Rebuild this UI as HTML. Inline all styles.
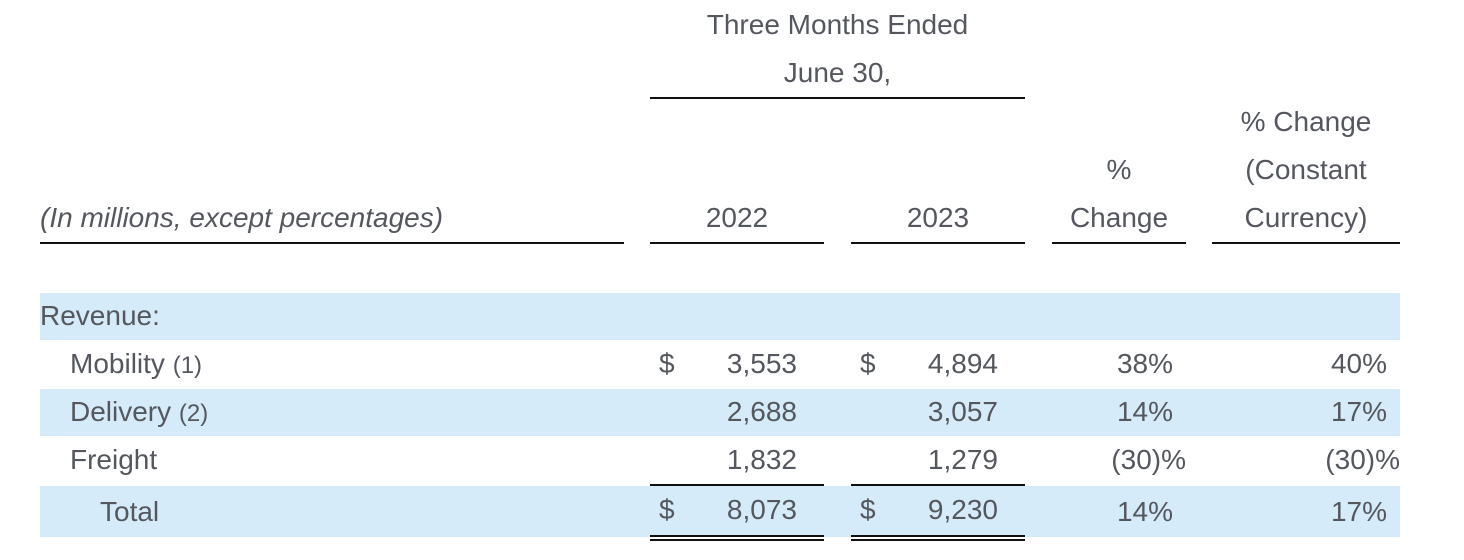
<!DOCTYPE html>
<html><head><meta charset="utf-8"><style>
body{margin:0;width:1464px;height:560px;background:#fff;position:relative;overflow:hidden;font-family:"Liberation Sans",sans-serif;color:#54585e;font-size:28px}
.a{position:absolute;white-space:nowrap;line-height:48px;height:48px}
.r{text-align:right}
.band{position:absolute;left:40px;width:1360px;background:#d5ebf9}
.ln{position:absolute;height:2px;background:#111}
.sm{font-size:24px}
</style></head><body>
<div class="band" style="top:293px;height:47px"></div>
<div class="band" style="top:389px;height:47px"></div>
<div class="band" style="top:486px;height:51px"></div>

<div class="a" style="left:650px;width:375px;text-align:center;top:1px">Three Months Ended</div>
<div class="a" style="left:650px;width:375px;text-align:center;top:49px">June 30,</div>
<div class="ln" style="left:650px;width:375px;top:97px"></div>

<div class="a" style="left:40px;top:194px;font-style:italic">(In millions, except percentages)</div>
<div class="a" style="left:650px;width:174px;text-align:center;top:194px">2022</div>
<div class="a" style="left:851px;width:174px;text-align:center;top:194px">2023</div>
<div class="a" style="left:1052px;width:134px;text-align:center;top:146px">%</div>
<div class="a" style="left:1052px;width:134px;text-align:center;top:194px">Change</div>
<div class="a" style="left:1212px;width:188px;text-align:center;top:98px">% Change</div>
<div class="a" style="left:1212px;width:188px;text-align:center;top:146px">(Constant</div>
<div class="a" style="left:1212px;width:188px;text-align:center;top:194px">Currency)</div>
<div class="ln" style="left:40px;width:584px;top:242px"></div>
<div class="ln" style="left:650px;width:174px;top:242px"></div>
<div class="ln" style="left:851px;width:174px;top:242px"></div>
<div class="ln" style="left:1052px;width:134px;top:242px"></div>
<div class="ln" style="left:1212px;width:188px;top:242px"></div>

<div class="a" style="left:40px;top:292px">Revenue:</div>

<div class="a" style="left:70px;top:340px">Mobility <span class="sm">(1)</span></div>
<div class="a" style="left:659px;top:340px">$</div>
<div class="a r" style="right:667px;top:340px">3,553</div>
<div class="a" style="left:860px;top:340px">$</div>
<div class="a r" style="right:466px;top:340px">4,894</div>
<div class="a r" style="right:291px;top:340px">38%</div>
<div class="a r" style="right:77px;top:340px">40%</div>

<div class="a" style="left:70px;top:388px">Delivery <span class="sm">(2)</span></div>
<div class="a r" style="right:667px;top:388px">2,688</div>
<div class="a r" style="right:466px;top:388px">3,057</div>
<div class="a r" style="right:291px;top:388px">14%</div>
<div class="a r" style="right:77px;top:388px">17%</div>

<div class="a" style="left:70px;top:436px">Freight</div>
<div class="a r" style="right:667px;top:436px">1,832</div>
<div class="a r" style="right:466px;top:436px">1,279</div>
<div class="a r" style="right:278px;top:436px">(30)%</div>
<div class="a r" style="right:64px;top:436px">(30)%</div>
<div class="ln" style="left:650px;width:174px;top:484px"></div>
<div class="ln" style="left:851px;width:174px;top:484px"></div>

<div class="a" style="left:100px;top:488px">Total</div>
<div class="a" style="left:659px;top:486px">$</div>
<div class="a r" style="right:667px;top:486px">8,073</div>
<div class="a" style="left:860px;top:486px">$</div>
<div class="a r" style="right:466px;top:486px">9,230</div>
<div class="a r" style="right:291px;top:488px">14%</div>
<div class="a r" style="right:77px;top:488px">17%</div>
<div class="ln" style="left:650px;width:174px;top:535px"></div>
<div class="ln" style="left:650px;width:174px;top:539px"></div>
<div class="ln" style="left:851px;width:174px;top:535px"></div>
<div class="ln" style="left:851px;width:174px;top:539px"></div>
</body></html>
